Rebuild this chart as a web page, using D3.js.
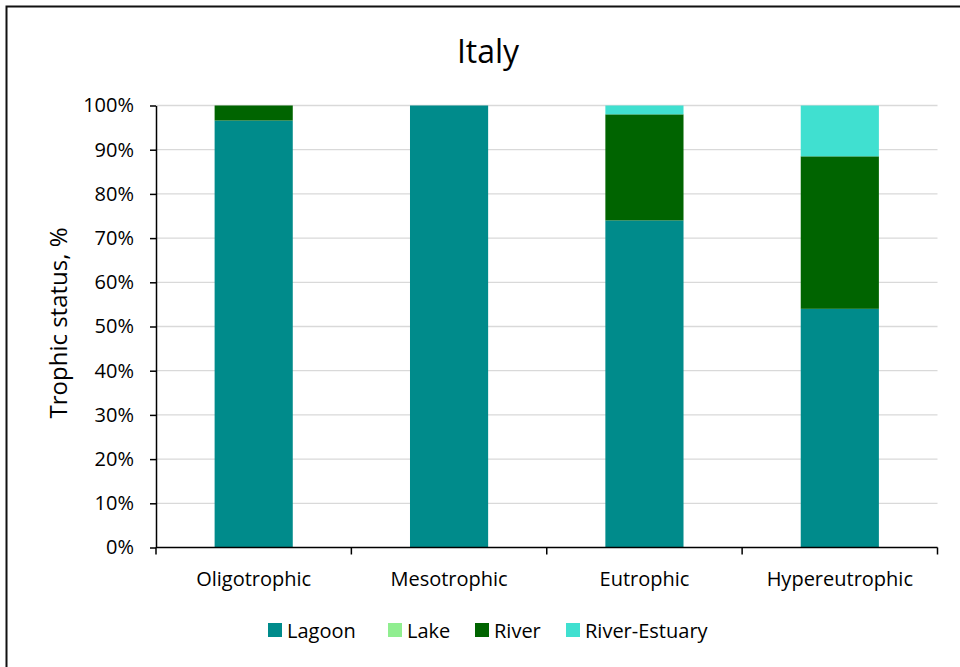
<!DOCTYPE html>
<html><head><meta charset="utf-8">
<script src="https://cdn.jsdelivr.net/npm/d3@7"></script>
<style>body{margin:0;background:#fff}svg{display:block}text{font-family:"Open Sans",sans-serif;fill:#000}</style>
</head><body>
<svg id="c" width="960" height="667"></svg>
<script>
const categories = ["Oligotrophic","Mesotrophic","Eutrophic","Hypereutrophic"];
const seriesNames = ["Lagoon","Lake","River","River-Estuary"];
const seriesColors = ["#008B8B","#90EE90","#006400","#40E0D0"];
const lagoon = [96.6, 100, 74.0, 54.0];
const lake = [0, 0, 0, 0];
const river = [3.4, 0, 24.0, 34.5];
const riverEstuary = [0, 0, 2.0, 11.5];
const yTicks = [0,10,20,30,40,50,60,70,80,90,100];

const rows = categories.map((c,i)=>({cat:c, "Lagoon":lagoon[i], "Lake":lake[i], "River":river[i], "River-Estuary":riverEstuary[i]}));
const svg = d3.select("#c");
const m = {l:156, r:937.5, t:105.5, b:547.5};
const x = d3.scaleBand().domain(categories).range([m.l,m.r]).paddingInner(0.6).paddingOuter(0.3);
const y = d3.scaleLinear().domain([0,100]).range([m.b,m.t]);

// frame
svg.append("rect").attr("x",6.5).attr("y",6.5).attr("width",1000).attr("height",700)
  .attr("fill","none").attr("stroke","#111").attr("stroke-width",2);

// gridlines
svg.append("g").selectAll("line").data(yTicks.filter(d=>d>0)).join("line")
  .attr("x1",m.l).attr("x2",m.r).attr("y1",d=>y(d)).attr("y2",d=>y(d))
  .attr("stroke","#d9d9d9").attr("stroke-width",1.3);

// bars
const stack = d3.stack().keys(seriesNames)(rows);
svg.append("g").selectAll("g").data(stack).join("g")
  .attr("fill",(d,i)=>seriesColors[i])
  .selectAll("rect").data(d=>d.filter(s=>s[1]-s[0]>0)).join("rect")
  .attr("x",d=>x(d.data.cat)).attr("width",x.bandwidth())
  .attr("y",d=>y(d[1])).attr("height",d=>y(d[0])-y(d[1]));

// y axis
const ya = svg.append("g").attr("transform",`translate(${m.l},0)`)
  .call(d3.axisLeft(y).tickValues(yTicks).tickFormat(d=>d+"%").tickSize(6).tickSizeOuter(0));
ya.select(".domain").attr("stroke","#000").attr("stroke-width",1.5);
ya.selectAll(".tick line").attr("stroke","#000").attr("stroke-width",1.5);
ya.selectAll("text").attr("font-family","Open Sans").attr("font-size",20).attr("x",-22).attr("fill","#000");

// x axis
const xa = svg.append("g").attr("transform",`translate(0,${m.b})`);
xa.append("line").attr("x1",m.l).attr("x2",m.r).attr("stroke","#000").attr("stroke-width",1.5);
const bounds = [m.l].concat(categories.map(c=>x(c)+x.bandwidth()+x.step()*0.3));
xa.selectAll(".tk").data(bounds).join("line").attr("class","tk")
  .attr("x1",d=>d).attr("x2",d=>d).attr("y1",0).attr("y2",7).attr("stroke","#000").attr("stroke-width",1.5);
xa.selectAll(".lb").data(categories).join("text").attr("class","lb")
  .attr("x",d=>x(d)+x.bandwidth()/2).attr("y",38).attr("text-anchor","middle")
  .attr("font-size",20).text(d=>d);

// title
svg.append("text").attr("x",488).attr("y",63).attr("text-anchor","middle").attr("font-size",32).text("Italy");
// y title
svg.append("text").attr("transform","translate(67,323) rotate(-90)").attr("text-anchor","middle")
  .attr("font-size",24).text("Trophic status, %");

// legend
const legX = [268, 388, 475, 566];
const lg = svg.append("g").selectAll("g").data(seriesNames).join("g")
  .attr("transform",(d,i)=>`translate(${legX[i]},623)`);
lg.append("rect").attr("width",14).attr("height",14).attr("fill",(d,i)=>seriesColors[i]);
lg.append("text").attr("x",19).attr("y",14.5).attr("font-size",20).text(d=>d);
</script>
</body></html>
